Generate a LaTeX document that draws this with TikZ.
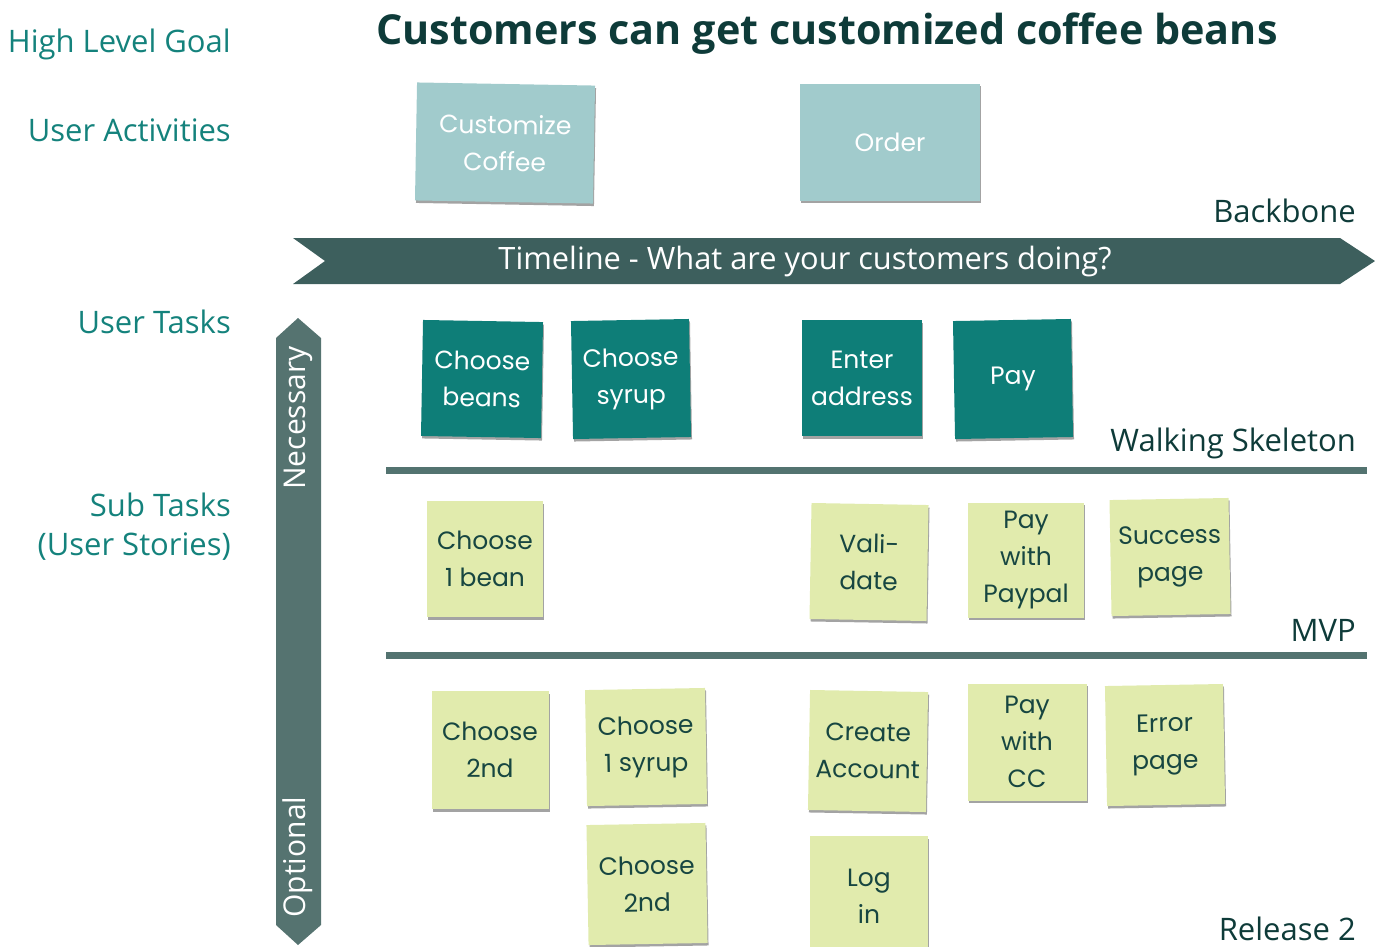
\documentclass[tikz,border=0pt]{standalone}
\usepackage{fontspec}
\setmainfont{Open Sans}
\newfontfamily\hand{Poppins}
\usetikzlibrary{shadows}
\definecolor{actfill}{HTML}{A1CBCC}
\definecolor{taskfill}{HTML}{0E7E78}
\definecolor{storyfill}{HTML}{E1EBAD}
\definecolor{timeline}{HTML}{3D5F5D}
\definecolor{varrow}{HTML}{557370}
\definecolor{sepline}{HTML}{537370}
\definecolor{lblteal}{HTML}{14827C}
\definecolor{darktext}{HTML}{0E3B39}
\definecolor{notetext}{HTML}{174641}
\begin{document}
\begin{tikzpicture}[x=1pt,y=-1pt,
  lbl/.style={text=lblteal, font=\fontsize{31}{39}\selectfont, anchor=east, align=right, inner sep=0},
  rlbl/.style={text=darktext, font=\fontsize{31}{39}\selectfont, anchor=east, inner sep=0},
  note/.style={inner sep=0, align=center, font=\hand\fontsize{25}{37}\selectfont,
    drop shadow={shadow xshift=1pt, shadow yshift=-2.5pt, fill=black!45, opacity=0.8}},
  act/.style={note, fill=actfill, text=white},
  task/.style={note, fill=taskfill, text=white},
  story/.style={note, fill=storyfill, text=notetext},
  sep/.style={draw=sepline, line width=7pt}]
\useasboundingbox (0,0) rectangle (1375,946);

% left labels
\node[lbl] (hlg) at (231,44) {High Level Goal};
\node[lbl] (ua) at (231,130) {User Activities};
\node[lbl] (ut) at (231,322) {User Tasks};
\node[lbl] (st) at (231,527) {Sub Tasks\\(User Stories)};

% title
\node[text=darktext, font=\bfseries\fontsize{41.3}{48}\selectfont, inner sep=0] (title) at (827,34) {Customers can get customized coffee beans};

% right labels
\node[rlbl] (bb) at (1356,211) {Backbone};
\node[rlbl] (ws) at (1356,443) {Walking Skeleton};
\node[rlbl] (mvp) at (1356,630) {MVP};
\node[rlbl] (r2) at (1356,929) {Release 2};

% timeline arrow
\fill[timeline] (293,238) -- (1340,238) -- (1375,261) -- (1340,284) -- (293,284) -- (325,261) -- cycle;
\node[text=white, font=\fontsize{30.8}{36}\selectfont, inner sep=0] (tl) at (805,261) {Timeline - What are your customers doing?};

% vertical arrow
\fill[varrow] (298,318) -- (321,338) -- (321,925) -- (298,945) -- (276,925) -- (276,338) -- cycle;
\node[text=white, font=\fontsize{30}{36}\selectfont, rotate=90, inner sep=0] (nec) at (298,418) {Necessary};
\node[text=white, font=\fontsize{30}{36}\selectfont, rotate=90, inner sep=0] (opt) at (298,857) {Optional};

% separator lines
\draw[sep] (386,470) -- (1367,470);
\draw[sep] (386,655) -- (1367,655);

% activities
\node[act, minimum width=178pt, minimum height=118pt, rotate=-1] (cc) at (505,143) {Customize\\Coffee};
\node[act, minimum width=180pt, minimum height=117pt] (ord) at (890,142) {Order};

% tasks
\node[task, minimum width=120pt, minimum height=116pt, rotate=-1] (cb) at (482,379) {Choose\\beans};
\node[task, minimum width=118pt, minimum height=118pt, rotate=1] (cs) at (631,379) {Choose\\syrup};
\node[task, minimum width=120pt, minimum height=116pt] (ea) at (862,378) {Enter\\address};
\node[task, minimum width=118pt, minimum height=118pt, rotate=1] (pay) at (1013,379) {Pay};

% MVP stories
\node[story, minimum width=116pt, minimum height=116pt] (c1b) at (485,559) {Choose\\1 bean};
\node[story, minimum width=117pt, minimum height=116pt, rotate=-1] (val) at (869,562) {Vali-\\date};
\node[story, minimum width=116pt, minimum height=115pt] (pp) at (1026,560) {Pay\\with\\Paypal};
\node[story, minimum width=119pt, minimum height=116pt, rotate=1] (sp) at (1170,557) {Success\\page};

% release 2 stories
\node[story, minimum width=117pt, minimum height=118pt] (c2a) at (490,750) {Choose\\2nd};
\node[story, minimum width=120pt, minimum height=116pt, rotate=1] (c1s) at (646,747) {Choose\\1 syrup};
\node[story, minimum width=118pt, minimum height=120pt, rotate=-1] (ca) at (868,751) {Create\\Account};
\node[story, minimum width=119pt, minimum height=117pt] (pcc) at (1027,742) {Pay\\with\\CC};
\node[story, minimum width=118pt, minimum height=120pt, rotate=1] (ep) at (1165,745) {Error\\page};
\node[story, minimum width=119pt, minimum height=120pt, rotate=1] (c2b) at (647,884) {Choose\\2nd};
\node[story, minimum width=118pt, minimum height=120pt] (li) at (869,896) {Log\\in};
\end{tikzpicture}
\end{document}
